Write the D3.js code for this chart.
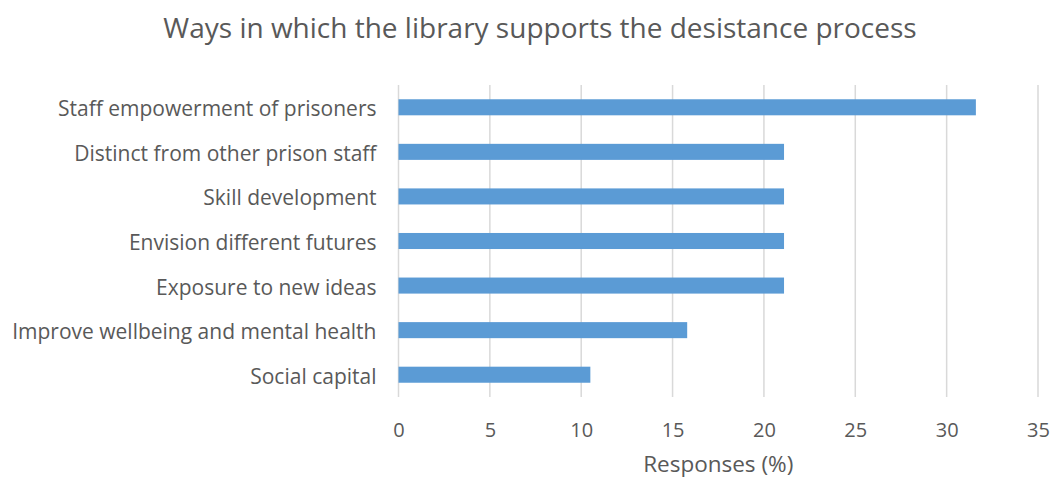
<!DOCTYPE html>
<html>
<head>
<meta charset="utf-8">
<script src="https://cdn.jsdelivr.net/npm/d3@7"></script>
<style>
  html, body { margin: 0; padding: 0; background: #fff; }
  svg { display: block; }
  text { font-family: "Open Sans", sans-serif; fill: #595959; }
</style>
</head>
<body>
<svg id="chart" width="1052" height="480"></svg>
<script>
// Categories, top to bottom
const categories = [
  "Staff empowerment of prisoners",
  "Distinct from other prison staff",
  "Skill development",
  "Envision different futures",
  "Exposure to new ideas",
  "Improve wellbeing and mental health",
  "Social capital"
];
// Share of responses (%)
const responses = [31.6, 21.1, 21.1, 21.1, 21.1, 15.8, 10.5];
const xTicks = [0, 5, 10, 15, 20, 25, 30, 35];
const chartTitle = "Ways in which the library supports the desistance process";
const xTitle = "Responses (%)";

const data = categories.map((c, i) => ({ category: c, value: responses[i] }));

const svg = d3.select("#chart");
const plot = { left: 398.5, right: 1038, top: 85, bottom: 397 };

const x = d3.scaleLinear().domain([0, 35]).range([plot.left, plot.right]);
const y = d3.scaleBand().domain(categories).range([plot.top, plot.bottom]).paddingInner(0.64).paddingOuter(0.32);

// Title
svg.append("text")
  .attr("x", 540).attr("y", 38)
  .attr("text-anchor", "middle")
  .style("font-size", "28px")
  .text(chartTitle);

// Vertical gridlines
svg.append("g")
  .selectAll("line")
  .data(xTicks)
  .join("line")
  .attr("x1", d => x(d)).attr("x2", d => x(d))
  .attr("y1", plot.top).attr("y2", plot.bottom)
  .attr("stroke", "#d9d9d9")
  .attr("stroke-width", 1.5);

// Bars
svg.append("g")
  .selectAll("rect")
  .data(data)
  .join("rect")
  .attr("x", x(0))
  .attr("y", d => y(d.category))
  .attr("width", d => x(d.value) - x(0))
  .attr("height", y.bandwidth())
  .attr("fill", "#5b9bd5");

// X axis tick labels
const xAxis = d3.axisBottom(x).tickValues(xTicks).tickSize(0).tickPadding(0);
const gx = svg.append("g").attr("transform", `translate(0,${plot.bottom})`).call(xAxis);
gx.select(".domain").remove();
gx.selectAll("text")
  .attr("dy", null)
  .attr("y", 40)
  .style("font-size", "20px")
  .style("font-family", "'Open Sans', sans-serif")
  .attr("fill", "#595959");

// Y axis category labels
const yAxis = d3.axisLeft(y).tickSize(0).tickPadding(22);
const gy = svg.append("g").attr("transform", `translate(${plot.left},0)`).call(yAxis);
gy.select(".domain").remove();
gy.selectAll("text")
  .attr("dy", "0.43em")
  .style("font-size", "21px")
  .style("font-family", "'Open Sans', sans-serif")
  .attr("fill", "#595959");

// X axis title
svg.append("text")
  .attr("x", (plot.left + plot.right) / 2).attr("y", 472)
  .attr("text-anchor", "middle")
  .style("font-size", "22.5px")
  .text(xTitle);
</script>
</body>
</html>
